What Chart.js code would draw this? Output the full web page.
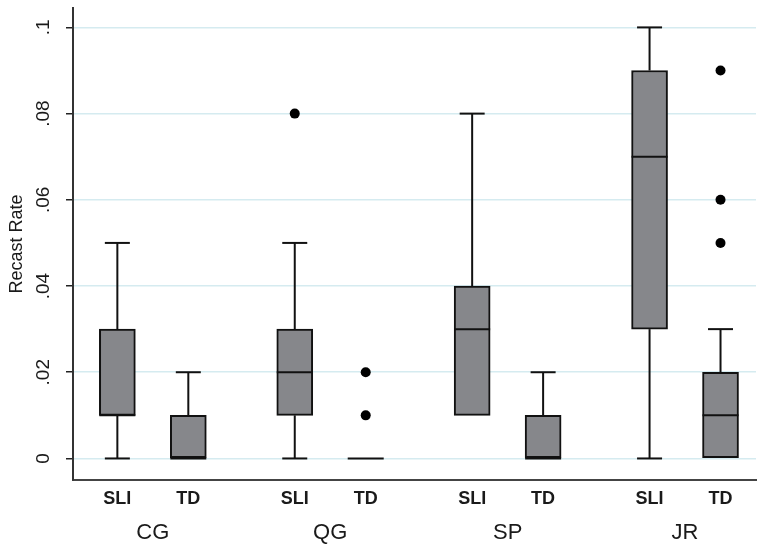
<!DOCTYPE html>
<html>
<head>
<meta charset="utf-8">
<script src="https://cdn.jsdelivr.net/npm/chart.js@4.4.0/dist/chart.umd.min.js"></script>
<style>
  html, body { margin: 0; padding: 0; background: #fff; }
  #chart { display: block; }
</style>
</head>
<body>
<canvas id="chart" width="761" height="545"></canvas>
<script>
const groups = ['CG', 'QG', 'SP', 'JR'];
const subgroups = ['SLI', 'TD'];

// one entry per box: CG-SLI, CG-TD, QG-SLI, QG-TD, SP-SLI, SP-TD, JR-SLI, JR-TD
const whiskerLow  = [0,    0,    0,    0, 0.01, 0,    0,    0];
const q1          = [0.01, 0,    0.01, 0, 0.01, 0,    0.03, 0];
const median      = [0.01, 0,    0.02, 0, 0.03, 0,    0.07, 0.01];
const q3          = [0.03, 0.01, 0.03, 0, 0.04, 0.01, 0.09, 0.02];
const whiskerHigh = [0.05, 0.02, 0.05, 0, 0.08, 0.02, 0.10, 0.03];
const outliers    = [[], [], [0.08], [0.01, 0.02], [], [], [], [0.05, 0.06, 0.09]];

const yTicks = [0, 0.02, 0.04, 0.06, 0.08, 0.1];
const yTickLabels = ['0', '.02', '.04', '.06', '.08', '.1'];
const yTitle = 'Recast Rate';

const FONT = "'Liberation Sans', Arial, sans-serif";

// x position of each box: two boxes per group, wider gap between groups
const boxPos = i => 1 + Math.floor(i / 2) * 5 + (i % 2) * 2;
const groupPos = g => 2 + g * 5;

const boxData = q1.map((lo, i) => ({ x: boxPos(i), y: [lo, q3[i]] }));
const outlierData = [];
outliers.forEach((vals, i) => vals.forEach(v => outlierData.push({ x: boxPos(i), y: v })));

// keep the plot area edges where the axes are, no label overhang padding
const noPad = s => { s.paddingTop = 0; s.paddingBottom = 0; s.paddingLeft = 0; s.paddingRight = 0; };

// whiskers, caps and medians drawn through the chart scales
const boxLines = {
    id: 'boxLines',
    beforeDatasetsDraw(chart) {
        const { ctx, scales: { x, y } } = chart;
        ctx.save();
        ctx.strokeStyle = '#111';
        ctx.lineWidth = 2;
        q1.forEach((lo, i) => {
            const px = x.getPixelForValue(boxPos(i));
            const segs = [[whiskerLow[i], lo], [q3[i], whiskerHigh[i]]];
            segs.forEach(([a, b]) => {
                if (a === b) return;
                ctx.beginPath();
                ctx.moveTo(px, y.getPixelForValue(a));
                ctx.lineTo(px, y.getPixelForValue(b));
                ctx.stroke();
            });
            [whiskerLow[i], whiskerHigh[i]].forEach((v, k) => {
                if ((k === 0 && v === lo) || (k === 1 && v === q3[i])) return;
                const py = y.getPixelForValue(v);
                ctx.beginPath();
                ctx.moveTo(px - 12.5, py);
                ctx.lineTo(px + 12.5, py);
                ctx.stroke();
            });
        });
        ctx.restore();
    },
    afterDatasetsDraw(chart) {
        const { ctx, scales: { x, y } } = chart;
        const bars = chart.getDatasetMeta(0).data;
        ctx.save();
        ctx.strokeStyle = '#111';
        ctx.lineWidth = 2;
        median.forEach((m, i) => {
            const px = x.getPixelForValue(boxPos(i));
            const half = bars[i].width / 2;
            const py = y.getPixelForValue(m);
            ctx.beginPath();
            ctx.moveTo(px - half, py);
            ctx.lineTo(px + half, py);
            ctx.stroke();
        });
        ctx.restore();
    },
    afterDraw(chart) {
        // y axis title, rotated, centred on the plot area
        const { ctx, chartArea } = chart;
        ctx.save();
        ctx.translate(17, (chartArea.top + chartArea.bottom) / 2);
        ctx.rotate(-Math.PI / 2);
        ctx.font = '18px ' + FONT;
        ctx.fillStyle = '#1a1a1a';
        ctx.textAlign = 'center';
        ctx.textBaseline = 'middle';
        ctx.fillText(yTitle, 0, 0);
        ctx.restore();
    }
};

new Chart(document.getElementById('chart'), {
    type: 'bar',
    data: {
        datasets: [{
            data: boxData,
            backgroundColor: '#86878b',
            borderColor: '#111',
            borderWidth: 2,
            borderSkipped: false,
            barThickness: 36
        }, {
            type: 'scatter',
            data: outlierData,
            pointRadius: 5,
            pointBackgroundColor: '#000',
            pointBorderWidth: 0
        }]
    },
    options: {
        responsive: false,
        animation: false,
        layout: { padding: { top: 8, right: 0, left: 0, bottom: 0 } },
        plugins: { legend: { display: false }, tooltip: { enabled: false } },
        scales: {
            x: {
                type: 'linear', min: -0.25, max: 19, offset: false,
                afterBuildTicks: s => { s.ticks = q1.map((v, i) => ({ value: boxPos(i) })); },
                ticks: {
                    callback: (v, i) => subgroups[i % 2],
                    autoSkip: false, maxRotation: 0, padding: 8,
                    color: '#1a1a1a', font: { family: FONT, size: 18, weight: 'bold' }
                },
                grid: { display: false, drawTicks: false },
                border: { color: '#444', width: 2 },
                afterFit: s => { s.height = 30; noPad(s); }
            },
            x2: {
                type: 'linear', axis: 'x', position: 'bottom', min: -0.25, max: 19, offset: false,
                afterBuildTicks: s => { s.ticks = groups.map((g, i) => ({ value: groupPos(i) })); },
                ticks: {
                    callback: (v, i) => groups[i],
                    autoSkip: false, maxRotation: 0, padding: 10,
                    color: '#1a1a1a', font: { family: FONT, size: 22 }
                },
                grid: { display: false, drawTicks: false },
                border: { display: false },
                afterFit: s => { s.height = 35; noPad(s); }
            },
            y: {
                min: -0.005, max: 0.1045,
                afterBuildTicks: s => { s.ticks = yTicks.map(v => ({ value: v })); },
                ticks: {
                    callback: v => yTickLabels[yTicks.indexOf(v)],
                    minRotation: 90, maxRotation: 90, crossAlign: 'center', padding: 9,
                    color: '#1a1a1a', font: { family: FONT, size: 19 }
                },
                grid: { color: '#d5ebf0', lineWidth: 1.5, tickColor: '#222', tickLength: 7, tickWidth: 1.5 },
                border: { color: '#333', width: 2 },
                afterFit: s => { s.width = 73; noPad(s); }
            }
        }
    },
    plugins: [boxLines]
});
</script>
</body>
</html>
